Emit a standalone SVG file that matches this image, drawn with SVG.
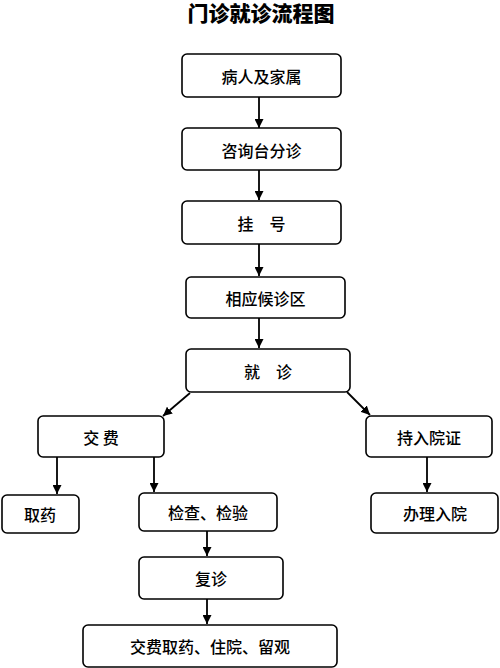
<svg xmlns="http://www.w3.org/2000/svg" width="500" height="668" viewBox="0 0 500 668">
<style>
.b{fill:#fff;stroke:#000;stroke-width:1.6}
.t{font-family:"Noto Sans CJK SC","Noto Sans CJK JP",sans-serif;font-size:16px;fill:#000;text-anchor:middle;dominant-baseline:central;font-weight:500}
.c{stroke:#000;stroke-width:1.8;fill:none;marker-end:url(#ah)}
.title{font-family:"Noto Sans CJK SC","Noto Sans CJK JP",sans-serif;font-size:21px;font-weight:900;text-anchor:middle;fill:#000}
</style>
<defs>
<marker id="ah" viewBox="0 0 10 10" refX="10" refY="5" markerWidth="5" markerHeight="5" orient="auto" markerUnits="strokeWidth">
<path d="M0,0 L10,5 L0,10 z" fill="#000"/>
</marker>
</defs>
<rect width="500" height="668" fill="#fff"/>
<text class="title" x="261" y="21">门诊就诊流程图</text>
<g id="connectors">
<line class="c" x1="259" y1="97" x2="259" y2="128"/>
<line class="c" x1="259" y1="170" x2="259" y2="200"/>
<line class="c" x1="259" y1="244" x2="259" y2="276"/>
<line class="c" x1="259" y1="318" x2="259" y2="348"/>
<line class="c" x1="190" y1="393" x2="163" y2="416"/>
<line class="c" x1="347" y1="392" x2="370" y2="415"/>
<line class="c" x1="57" y1="457" x2="57" y2="494"/>
<line class="c" x1="154" y1="457" x2="154" y2="492"/>
<line class="c" x1="427" y1="457" x2="427" y2="492"/>
<line class="c" x1="207" y1="531" x2="207" y2="556"/>
<line class="c" x1="207" y1="599" x2="207" y2="624"/>
</g>
<g id="n1"><rect class="b" x="182" y="54" width="159" height="43" rx="5"/><text class="t" x="261.5" y="76">病人及家属</text></g>
<g id="n2"><rect class="b" x="182" y="128" width="159" height="42" rx="5"/><text class="t" x="261.5" y="150">咨询台分诊</text></g>
<g id="n3"><rect class="b" x="182" y="201" width="159" height="43" rx="5"/><text class="t" x="261.5" y="223">挂　号</text></g>
<g id="n4"><rect class="b" x="186" y="277" width="159" height="41" rx="5"/><text class="t" x="265.5" y="298">相应候诊区</text></g>
<g id="n5"><rect class="b" x="186" y="349" width="164" height="43" rx="5"/><text class="t" x="268" y="371">就　诊</text></g>
<g id="n6"><rect class="b" x="38" y="416" width="126" height="41" rx="5"/><text class="t" x="101" y="437">交 费</text></g>
<g id="n7"><rect class="b" x="366" y="416" width="126" height="41" rx="5"/><text class="t" x="429" y="437">持入院证</text></g>
<g id="n8"><rect class="b" x="2" y="495" width="77" height="38" rx="5"/><text class="t" x="40" y="514">取药</text></g>
<g id="n9"><rect class="b" x="139" y="493" width="138" height="38" rx="5"/><text class="t" x="208" y="512">检查、检验</text></g>
<g id="n10"><rect class="b" x="371" y="493" width="127" height="40" rx="5"/><text class="t" x="435" y="513">办理入院</text></g>
<g id="n11"><rect class="b" x="139" y="557" width="144" height="42" rx="5"/><text class="t" x="211" y="578">复诊</text></g>
<g id="n12"><rect class="b" x="83" y="625" width="254" height="42" rx="5"/><text class="t" x="210" y="646">交费取药、住院、留观</text></g>
</svg>
